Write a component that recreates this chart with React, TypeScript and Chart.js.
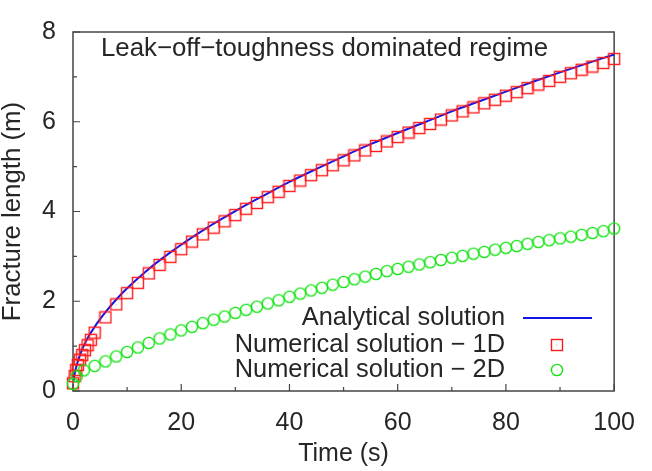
import React, { useEffect, useRef } from "react";
import { Chart, registerables } from "chart.js";

Chart.register(...registerables);

// ---- data ----
const titleText = "Leak\u2212off\u2212toughness dominated regime";
const xLabel = "Time (s)";
const yLabel = "Fracture length (m)";
const legendLabels = [
  "Analytical solution",
  "Numerical solution \u2212 1D",
  "Numerical solution \u2212 2D",
];

const analyticT = [0.1, 0.3, 0.6, 1, 1.5, 2, 3, 4, 5, 6, 8, 10, 12, 14, 16, 18, 20, 23, 26, 30, 35, 40, 45, 50, 55, 60, 65, 70, 75, 80, 85, 90, 95, 100];
const analyticL = [0.22, 0.38, 0.54, 0.70, 0.87, 1.01, 1.24, 1.43, 1.60, 1.76, 2.04, 2.29, 2.51, 2.72, 2.91, 3.09, 3.26, 3.50, 3.73, 4.01, 4.34, 4.66, 4.95, 5.23, 5.50, 5.75, 5.99, 6.23, 6.45, 6.67, 6.89, 7.10, 7.30, 7.50];

const num1DT = [0, 0.3, 0.6, 0.9, 1.3, 1.7, 2.2, 2.7, 3.3,
  4, 6, 8, 10, 12, 14, 16, 18, 20, 22, 24, 26, 28, 30, 32, 34, 36, 38, 40, 42, 44, 46, 48, 50,
  52, 54, 56, 58, 60, 62, 64, 66, 68, 70, 72, 74, 76, 78, 80, 82, 84, 86, 88, 90, 92, 94, 96, 98, 100];
const num1DL = [0.17, 0.33, 0.47, 0.58, 0.70, 0.80, 0.91, 1.02, 1.14,
  1.30, 1.64, 1.93, 2.18, 2.41, 2.62, 2.81, 2.99, 3.16, 3.33, 3.49, 3.64, 3.78, 3.92, 4.06, 4.19, 4.32, 4.44, 4.57, 4.69, 4.81, 4.92, 5.03, 5.14,
  5.25, 5.36, 5.46, 5.56, 5.66, 5.76, 5.86, 5.95, 6.05, 6.14, 6.23, 6.32, 6.41, 6.49, 6.58, 6.66, 6.75, 6.83, 6.91, 7.00, 7.08, 7.16, 7.23, 7.31, 7.40];

const num2DT = [0, 0.7, 2,
  4, 6, 8, 10, 12, 14, 16, 18, 20, 22, 24, 26, 28, 30, 32, 34, 36, 38, 40, 42, 44, 46, 48, 50,
  52, 54, 56, 58, 60, 62, 64, 66, 68, 70, 72, 74, 76, 78, 80, 82, 84, 86, 88, 90, 92, 94, 96, 98, 100];
const num2DL = [0.16, 0.33, 0.46,
  0.56, 0.66, 0.77, 0.87, 0.97, 1.07, 1.17, 1.26, 1.35, 1.43, 1.51, 1.59, 1.66, 1.74, 1.81, 1.88, 1.95, 2.02, 2.10, 2.17, 2.24, 2.30, 2.37, 2.43,
  2.49, 2.55, 2.61, 2.67, 2.72, 2.77, 2.82, 2.87, 2.92, 2.97, 3.01, 3.06, 3.10, 3.15, 3.19, 3.23, 3.28, 3.32, 3.36, 3.40, 3.44, 3.48, 3.52, 3.56, 3.62];

const xTickValues = [0, 10, 20, 30, 40, 50, 60, 70, 80, 90, 100];
const xMajorTicks = [0, 20, 40, 60, 80, 100];
const yTickValues = [0, 1, 2, 3, 4, 5, 6, 7, 8];
const yMajorTicks = [0, 2, 4, 6, 8];

const FONT = "'Liberation Sans', Arial, Helvetica, sans-serif";
const TEXT = "#262626";
const FRAME = "#444";
const BLUE = "#1414e6";
const RED = "#ff1a1a";
const GREEN = "rgb(20,228,20)";

function makeSquare(color: string) {
  const c = document.createElement("canvas");
  c.width = 14; c.height = 14;
  const ctx = c.getContext("2d")!;
  ctx.strokeStyle = color; ctx.lineWidth = 1.4;
  ctx.strokeRect(1.5, 1.5, 11, 11);
  ctx.fillStyle = color; ctx.globalAlpha = 0.5;
  ctx.fillRect(6.5, 6.5, 1, 1);
  return c;
}
function makeCircle(color: string) {
  const c = document.createElement("canvas");
  c.width = 14; c.height = 14;
  const ctx = c.getContext("2d")!;
  ctx.strokeStyle = color; ctx.lineWidth = 1.4;
  ctx.beginPath(); ctx.arc(7, 7, 5.6, 0, Math.PI * 2); ctx.stroke();
  ctx.fillStyle = color; ctx.globalAlpha = 0.5;
  ctx.fillRect(6.5, 6.5, 1, 1);
  return c;
}

export default function App() {
  const ref = useRef<HTMLCanvasElement | null>(null);
  useEffect(() => {
    const sq = makeSquare(RED);
    const ci = makeCircle(GREEN);
    const framePlugin = {
      id: "frameTicks",
      beforeDatasetsDraw(chart: any) {
        const { ctx, chartArea: a, scales } = chart;
        ctx.save();
        ctx.strokeStyle = FRAME;
        ctx.lineWidth = 1.5;
        ctx.strokeRect(a.left, a.top, a.right - a.left, a.bottom - a.top);
        ctx.lineWidth = 1.2;
        ctx.beginPath();
        for (const v of xTickValues) {
          const px = scales.x.getPixelForValue(v);
          const len = xMajorTicks.includes(v) ? 7 : 4;
          ctx.moveTo(px, a.bottom); ctx.lineTo(px, a.bottom - len);
        }
        for (const v of yTickValues) {
          const py = scales.y.getPixelForValue(v);
          const len = yMajorTicks.includes(v) ? 7 : 4;
          ctx.moveTo(a.left, py); ctx.lineTo(a.left + len, py);
        }
        ctx.stroke();
        ctx.restore();
      },
      afterDraw(chart: any) {
        const { ctx } = chart;
        ctx.save();
        ctx.fillStyle = TEXT;
        ctx.font = `25.8px ${FONT}`;
        ctx.textAlign = "left";
        ctx.textBaseline = "alphabetic";
        ctx.fillText(titleText, 101, 56);
        ctx.font = `25.4px ${FONT}`;
        ctx.textAlign = "right";
        ctx.textBaseline = "middle";
        const ys = [318, 345, 370];
        legendLabels.forEach((t, i) => ctx.fillText(t, 505, ys[i]));
        ctx.strokeStyle = BLUE; ctx.lineWidth = 2;
        ctx.beginPath(); ctx.moveTo(523, ys[0]); ctx.lineTo(592, ys[0]); ctx.stroke();
        ctx.drawImage(sq, 557 - 7, ys[1] - 7);
        ctx.drawImage(ci, 557 - 7, ys[2] - 7);
        ctx.restore();
      },
    };

    const chart = new Chart(ref.current!, {
      type: "scatter",
      data: {
        datasets: [
          {
            label: legendLabels[2],
            data: num2DT.map((t, i) => ({ x: t, y: num2DL[i] })),
            pointStyle: ci as any,
            pointRadius: 7,
            showLine: false,
            clip: false as any,
          },
          {
            label: legendLabels[1],
            data: num1DT.map((t, i) => ({ x: t, y: num1DL[i] })),
            pointStyle: sq as any,
            pointRadius: 7,
            showLine: false,
            clip: false as any,
          },
          {
            label: legendLabels[0],
            data: analyticT.map((t, i) => ({ x: t, y: analyticL[i] })),
            showLine: true,
            borderColor: BLUE,
            borderWidth: 2,
            pointRadius: 0,
            cubicInterpolationMode: "monotone",
            clip: false as any,
          },
        ],
      },
      options: {
        responsive: false,
        animation: false,
        events: [],
        layout: { padding: { top: 15, right: 29, left: 0, bottom: 0 } },
        plugins: { legend: { display: false }, tooltip: { enabled: false }, title: { display: false } },
        scales: {
          x: {
            type: "linear",
            min: 0, max: 100,
            grid: { display: false, drawTicks: false },
            border: { display: false },
            ticks: { stepSize: 20, padding: 17, color: TEXT, font: { family: FONT, size: 25 }, maxRotation: 0 },
            title: { display: true, text: xLabel, color: TEXT, font: { family: FONT, size: 25 }, padding: { top: 0, bottom: 2 } },
            afterFit: (s: any) => { s.height = 80; },
          },
          y: {
            type: "linear",
            min: 0, max: 8,
            grid: { display: false, drawTicks: false },
            border: { display: false },
            ticks: { stepSize: 2, padding: 17, color: TEXT, font: { family: FONT, size: 25 } },
            title: { display: true, text: yLabel, color: TEXT, font: { family: FONT, size: 25.8, lineHeight: 1 }, padding: { top: 0, bottom: 0 } },
            afterFit: (s: any) => { s.width = 73; },
          },
        },
      },
      plugins: [framePlugin],
    });
    return () => chart.destroy();
  }, []);

  return (
    <div style={{ position: "absolute", left: 0, top: 0, width: 652, height: 471, background: "#fff" }}>
      <canvas ref={ref} width={652} height={471} />
    </div>
  );
}
